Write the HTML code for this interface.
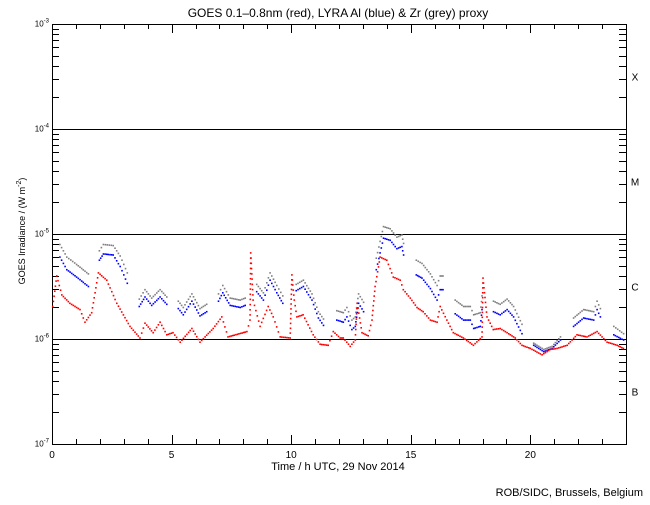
<!DOCTYPE html>
<html><head><meta charset="utf-8"><style>
body{margin:0;background:#fff}
svg text{font-family:"Liberation Sans",sans-serif;fill:#000}
</style></head><body>
<svg id="chart" width="650" height="500" viewBox="0 0 650 500" xmlns="http://www.w3.org/2000/svg">
<rect x="0" y="0" width="650" height="500" fill="#fff"/>
<text x="338" y="17" font-size="12" text-anchor="middle">GOES 0.1–0.8nm (red), LYRA Al (blue) &amp; Zr (grey) proxy</text>
<text transform="translate(25,231) rotate(-90)" font-size="9" text-anchor="middle">GOES Irradiance / (W m<tspan dy="-4" font-size="7">-2</tspan><tspan dy="4">)</tspan></text>
<text x="338" y="470" font-size="11" text-anchor="middle">Time / h UTC, 29 Nov 2014</text>
<text x="643" y="496" font-size="11" text-anchor="end">ROB/SIDC, Brussels, Belgium</text>
<g id="axes"></g>
<g id="marks"></g>
</svg>
<script>
const xTicks=[0,5,10,15,20];
const yDecades=[-3,-4,-5,-6,-7];
const classLabels=["X","M","C","B"];
const redHours=[0.03,0.20,0.41,0.75,1.17,1.38,1.66,1.94,2.29,2.71,3.26,3.68,3.89,4.23,4.52,4.80,5.06,5.36,5.85,6.19,6.40,6.74,7.10,7.36,8.15,8.28,8.31,8.41,8.70,9.04,9.25,9.54,9.96,10.03,10.13,10.24,10.50,10.92,11.21,11.55,11.76,12.05,12.18,12.47,12.68,12.76,12.96,13.22,13.38,13.51,13.72,14.00,14.27,14.56,14.69,14.98,15.26,15.52,15.82,16.10,16.23,16.51,16.78,17.20,17.62,17.98,18.02,18.19,18.45,18.74,19.03,19.37,19.65,20.0,20.49,20.84,21.12,21.54,21.95,22.37,22.79,23.21,23.63,23.89];
const redValues=[-5.69,-5.40,-5.58,-5.66,-5.72,-5.84,-5.75,-5.37,-5.44,-5.66,-5.88,-5.99,-5.85,-5.94,-5.84,-5.96,-5.94,-6.03,-5.90,-6.03,-5.98,-5.90,-5.79,-5.98,-5.93,-5.82,-5.18,-5.63,-5.88,-5.69,-5.79,-5.98,-5.99,-5.39,-5.63,-5.79,-5.77,-5.96,-6.05,-6.06,-5.93,-5.99,-5.99,-6.07,-6.01,-5.66,-5.94,-5.97,-5.82,-5.50,-5.22,-5.25,-5.41,-5.44,-5.53,-5.61,-5.70,-5.74,-5.82,-5.84,-5.69,-5.82,-5.94,-5.99,-6.06,-5.98,-5.42,-5.79,-5.91,-5.90,-5.94,-5.99,-6.06,-6.09,-6.15,-6.10,-6.09,-6.06,-5.96,-5.98,-5.93,-6.03,-6.06,-6.09];
const blueHours=[0.33,0.62,1.03,1.52,null,1.98,2.15,2.56,2.85,3.15,null,3.65,3.89,4.17,4.52,4.80,null,5.28,5.49,5.85,6.19,6.47,null,6.96,7.14,7.45,7.87,8.08,null,8.56,8.84,9.12,9.40,9.65,null,10.21,10.51,10.87,11.14,11.35,null,11.91,12.18,12.33,12.54,12.68,12.82,13.03,null,13.56,13.72,13.86,14.14,14.42,14.63,14.70,null,15.23,15.47,15.82,16.10,16.23,16.35,null,16.86,17.21,17.49,17.63,17.91,17.98,null,18.46,18.74,19.03,19.30,19.65,null,20.14,20.56,20.91,21.26,null,21.81,22.23,22.65,22.79,22.93,null,23.49,23.90];
const blueValues=[-5.22,-5.34,-5.41,-5.50,null,-5.25,-5.19,-5.20,-5.31,-5.47,null,-5.69,-5.60,-5.68,-5.60,-5.67,null,-5.71,-5.77,-5.64,-5.78,-5.74,null,-5.64,-5.56,-5.68,-5.70,-5.68,null,-5.55,-5.63,-5.44,-5.56,-5.66,null,-5.54,-5.50,-5.63,-5.80,-5.87,null,-5.82,-5.84,-5.79,-5.91,-5.88,-5.66,-5.74,null,-5.34,-5.18,-5.04,-5.06,-5.14,-5.12,-5.20,null,-5.39,-5.42,-5.52,-5.63,-5.53,-5.53,null,-5.76,-5.82,-5.82,-5.90,-5.88,-5.72,null,-5.74,-5.77,-5.72,-5.79,-5.95,null,-6.06,-6.12,-6.09,-6.01,null,-5.88,-5.80,-5.82,-5.72,-5.79,null,-5.96,-6.01];
const greyValues=[-5.10,-5.22,-5.29,-5.38,null,-5.16,-5.10,-5.11,-5.21,-5.37,null,-5.62,-5.53,-5.61,-5.53,-5.60,null,-5.64,-5.70,-5.57,-5.71,-5.67,null,-5.57,-5.49,-5.61,-5.63,-5.61,null,-5.48,-5.56,-5.37,-5.49,-5.59,null,-5.48,-5.44,-5.57,-5.74,-5.81,null,-5.73,-5.75,-5.70,-5.82,-5.79,-5.57,-5.65,null,-5.23,-5.07,-4.93,-4.95,-5.03,-5.01,-5.09,null,-5.25,-5.28,-5.38,-5.49,-5.40,-5.40,null,-5.63,-5.69,-5.69,-5.77,-5.75,-5.59,null,-5.64,-5.67,-5.62,-5.69,-5.86,null,-6.04,-6.10,-6.07,-5.98,null,-5.80,-5.72,-5.74,-5.64,-5.71,null,-5.88,-5.95];

const NS="http://www.w3.org/2000/svg";
const X0=52,X1=626,Y0=24,Y1=444;
function xs(h){return X0+(X1-X0)*h/24;}
function ys(l){return Y0+(-3-l)*(Y1-Y0)/4;}
const axes=document.getElementById('axes'),marks=document.getElementById('marks');
function line(g,x1,y1,x2,y2,name){const l=document.createElementNS(NS,'line');l.setAttribute('x1',x1);l.setAttribute('y1',y1);l.setAttribute('x2',x2);l.setAttribute('y2',y2);l.setAttribute('stroke','#000');l.setAttribute('stroke-width','1');


g.appendChild(l);}
function txt(x,y,s,size,anchor,name){const t=document.createElementNS(NS,'text');t.setAttribute('x',x);t.setAttribute('y',y);t.setAttribute('font-size',size);t.setAttribute('text-anchor',anchor);t.textContent=s;


axes.appendChild(t);return t;}
const fr=document.createElementNS(NS,'rect');fr.setAttribute('x',X0+0.5);fr.setAttribute('y',Y0+0.5);fr.setAttribute('width',X1-X0);fr.setAttribute('height',Y1-Y0);fr.setAttribute('fill','none');fr.setAttribute('stroke','#000');


axes.appendChild(fr);
for(let h=1;h<24;h++){const x=Math.round(xs(h))+0.5;const len=h%5===0?9:5;line(axes,x,Y0,x,Y0+len,'top-tick');line(axes,x,Y1,x,Y1-len,'bottom-tick');}
xTicks.forEach(v=>{txt(xs(v),Y1+14,String(v),10,'middle','x-tick-label');});
yDecades.forEach((d,i)=>{const y=Math.round(ys(d))+0.5;
 if(i>0&&i<yDecades.length-1)line(axes,X0,y,X1,y,'decade-gridline');
 const t=txt(X0-3,y+2,'10',8,'end','y-tick-label');const sp=document.createElementNS(NS,'tspan');sp.setAttribute('dy','-4');sp.setAttribute('font-size','6');sp.textContent=String(d);t.textContent='10';t.appendChild(sp);
 if(i<yDecades.length-1){for(let m=2;m<10;m++){const ym=Math.round(ys(d-1+Math.log10(m)))+0.5;line(axes,X0,ym,X0+7,ym,'left-minor-tick');line(axes,X1,ym,X1-7,ym,'right-minor-tick');}}
});
classLabels.forEach((c,i)=>{txt(X1+9,ys(yDecades[i]-0.5)+4,c,10,'middle','flare-class-label');});
function series(hours,vals,color,name,step){let prev=null;
 for(let i=0;i<hours.length;i++){const h=hours[i],v=vals[i];if(h===null||v===null){prev=null;continue;}
  const x=xs(h),y=ys(v);
  if(prev){const dx=x-prev[0],dy=y-prev[1];const dist=Math.hypot(dx,dy);
   const n=Math.max(1,Math.round(Math.abs(dx)/step),Math.round(dist/5));
   for(let k=1;k<=n;k++){dot(prev[0]+dx*k/n,prev[1]+dy*k/n,color,name);}}
  else dot(x,y,color,name);
  prev=[x,y];}}
function dot(x,y,color,name){const r=document.createElementNS(NS,'rect');r.setAttribute('x',(x-0.8).toFixed(1));r.setAttribute('y',(y-0.8).toFixed(1));r.setAttribute('width','1.6');r.setAttribute('height','1.6');r.setAttribute('fill',color);
 
 
 marks.appendChild(r);}
series(blueHours,greyValues,'#808080','zr-grey-point',1.8);
series(blueHours,blueValues,'#0000ff','al-blue-point',1.6);
series(redHours,redValues,'#ff0000','goes-red-point',1.6);
</script>
</body></html>
